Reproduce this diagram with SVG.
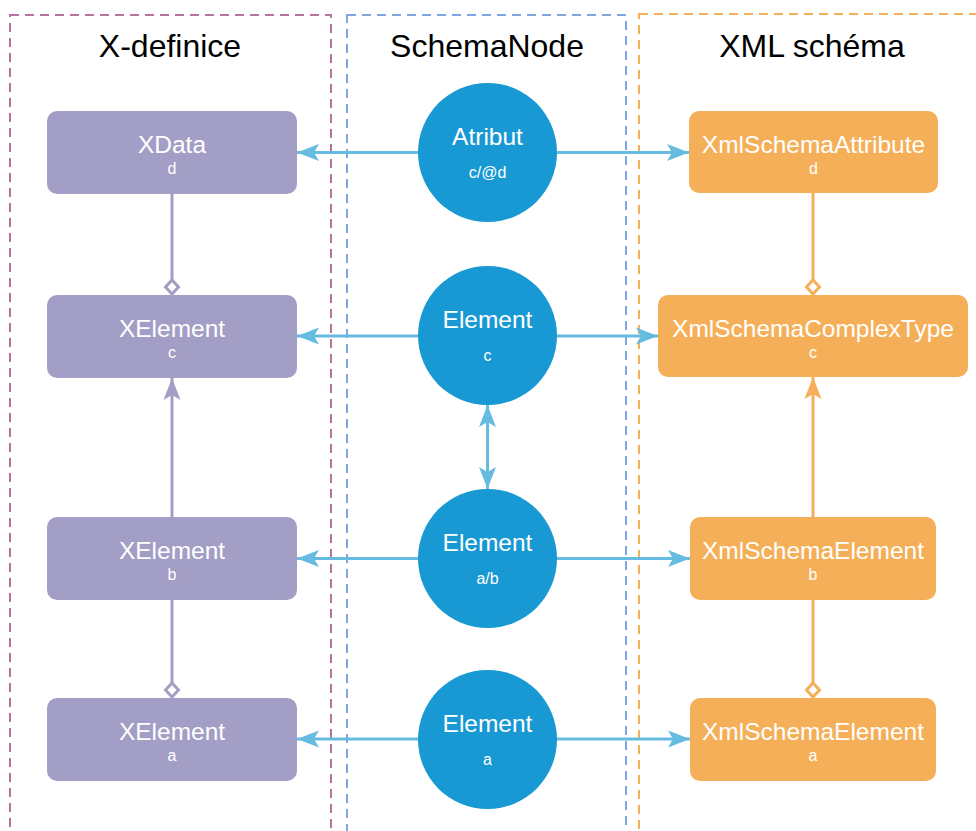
<svg xmlns="http://www.w3.org/2000/svg" width="976" height="831" viewBox="0 0 976 831">
  <style>
    .lane { fill: none; stroke-width: 2; stroke-dasharray: 9 6; }
    .title { font-family: "Liberation Sans", Arial, sans-serif; font-size: 32px; fill: #000; text-anchor: middle; }
    .xdef rect { fill: #A39EC5; }
    .xsd rect { fill: #F5AF58; }
    .sn circle { fill: #1899D3; }
    .name { font-family: "Liberation Sans", Arial, sans-serif; font-size: 24.5px; fill: #fff; text-anchor: middle; }
    .sub { font-family: "Liberation Sans", Arial, sans-serif; font-size: 16px; fill: #fff; text-anchor: middle; }
    .map { stroke: #66BCE0; stroke-width: 3; fill: none; }
    .purple { stroke: #A39EC5; stroke-width: 3; fill: none; }
    .orange { stroke: #F5AF58; stroke-width: 3; fill: none; }
  </style>
  <defs>
    <marker id="arrBlue" viewBox="0 0 24 18" refX="23" refY="9" markerWidth="24" markerHeight="18" markerUnits="userSpaceOnUse" orient="auto-start-reverse">
      <path d="M23,9 L1,0.5 L6,9 L1,17.5 Z" fill="#66BCE0"/>
    </marker>
    <marker id="arrPurple" viewBox="0 0 24 18" refX="23" refY="9" markerWidth="24" markerHeight="18" markerUnits="userSpaceOnUse" orient="auto">
      <path d="M23,9 L1,0.5 L6,9 L1,17.5 Z" fill="#A39EC5"/>
    </marker>
    <marker id="arrOrange" viewBox="0 0 24 18" refX="23" refY="9" markerWidth="24" markerHeight="18" markerUnits="userSpaceOnUse" orient="auto">
      <path d="M23,9 L1,0.5 L6,9 L1,17.5 Z" fill="#F5AF58"/>
    </marker>
    <marker id="diaPurple" viewBox="0 0 20 20" refX="17" refY="10" markerWidth="20" markerHeight="20" markerUnits="userSpaceOnUse" orient="auto">
      <path d="M17,10 L10,3.5 L3,10 L10,16.5 Z" fill="#fff" stroke="#A39EC5" stroke-width="3"/>
    </marker>
    <marker id="diaOrange" viewBox="0 0 20 20" refX="17" refY="10" markerWidth="20" markerHeight="20" markerUnits="userSpaceOnUse" orient="auto">
      <path d="M17,10 L10,3.5 L3,10 L10,16.5 Z" fill="#fff" stroke="#F5AF58" stroke-width="3"/>
    </marker>
  </defs>

  <!-- swimlanes -->
  <g id="lanes">
    <rect class="lane" x="10" y="15" width="321" height="850" stroke="#B5739D"/>
    <rect class="lane" x="347" y="15" width="279" height="850" stroke="#7EA6E0"/>
    <rect class="lane" x="639" y="14" width="360" height="850" stroke="#F5B055"/>
    <text class="title" x="170" y="57">X-definice</text>
    <text class="title" x="487" y="57">SchemaNode</text>
    <text class="title" x="812" y="57">XML schéma</text>
  </g>

  <!-- connectors -->
  <g id="connectors">
    <!-- SchemaNode to X-definice / XML schema -->
    <line class="map" x1="418" y1="152.5" x2="297" y2="152.5" marker-end="url(#arrBlue)"/>
    <line class="map" x1="557" y1="152.5" x2="689" y2="152.5" marker-end="url(#arrBlue)"/>
    <line class="map" x1="418" y1="336" x2="297" y2="336" marker-end="url(#arrBlue)"/>
    <line class="map" x1="557" y1="336" x2="658" y2="336" marker-end="url(#arrBlue)"/>
    <line class="map" x1="418" y1="558.5" x2="297" y2="558.5" marker-end="url(#arrBlue)"/>
    <line class="map" x1="557" y1="558.5" x2="690" y2="558.5" marker-end="url(#arrBlue)"/>
    <line class="map" x1="418" y1="739" x2="297" y2="739" marker-end="url(#arrBlue)"/>
    <line class="map" x1="557" y1="739" x2="690" y2="739" marker-end="url(#arrBlue)"/>
    <line class="map" x1="487.5" y1="405" x2="487.5" y2="489" marker-start="url(#arrBlue)" marker-end="url(#arrBlue)"/>
    <!-- X-definice structure -->
    <line class="purple" x1="172" y1="194" x2="172" y2="294" marker-end="url(#diaPurple)"/>
    <line class="purple" x1="172" y1="517" x2="172" y2="378" marker-end="url(#arrPurple)"/>
    <line class="purple" x1="172" y1="600" x2="172" y2="697" marker-end="url(#diaPurple)"/>
    <!-- XML schema structure -->
    <line class="orange" x1="813" y1="193" x2="813" y2="294" marker-end="url(#diaOrange)"/>
    <line class="orange" x1="813" y1="517" x2="813" y2="377" marker-end="url(#arrOrange)"/>
    <line class="orange" x1="813" y1="600" x2="813" y2="697" marker-end="url(#diaOrange)"/>
  </g>

  <!-- X-definice nodes -->
  <g id="xdata" class="xdef">
    <rect x="47" y="111" width="250" height="83" rx="10"/>
    <text class="name" x="172" y="153">XData</text>
    <text class="sub" x="172" y="174">d</text>
  </g>
  <g id="xelement-c" class="xdef">
    <rect x="47" y="295" width="250" height="83" rx="10"/>
    <text class="name" x="172" y="337">XElement</text>
    <text class="sub" x="172" y="358">c</text>
  </g>
  <g id="xelement-b" class="xdef">
    <rect x="47" y="517" width="250" height="83" rx="10"/>
    <text class="name" x="172" y="559">XElement</text>
    <text class="sub" x="172" y="580">b</text>
  </g>
  <g id="xelement-a" class="xdef">
    <rect x="47" y="698" width="250" height="83" rx="10"/>
    <text class="name" x="172" y="740">XElement</text>
    <text class="sub" x="172" y="761">a</text>
  </g>

  <!-- SchemaNode nodes -->
  <g id="sn-atribut" class="sn">
    <circle cx="487.5" cy="152.5" r="69.5"/>
    <text class="name" x="487.5" y="145">Atribut</text>
    <text class="sub" x="487.5" y="178">c/@d</text>
  </g>
  <g id="sn-element-c" class="sn">
    <circle cx="487.5" cy="335.5" r="69.5"/>
    <text class="name" x="487.5" y="328">Element</text>
    <text class="sub" x="487.5" y="361">c</text>
  </g>
  <g id="sn-element-ab" class="sn">
    <circle cx="487.5" cy="558.5" r="69.5"/>
    <text class="name" x="487.5" y="551">Element</text>
    <text class="sub" x="487.5" y="584">a/b</text>
  </g>
  <g id="sn-element-a" class="sn">
    <circle cx="487.5" cy="739.5" r="69.5"/>
    <text class="name" x="487.5" y="732">Element</text>
    <text class="sub" x="487.5" y="765">a</text>
  </g>

  <!-- XML schema nodes -->
  <g id="xs-attribute" class="xsd">
    <rect x="689" y="111" width="249" height="82" rx="10"/>
    <text class="name" x="813.5" y="153">XmlSchemaAttribute</text>
    <text class="sub" x="813.5" y="174">d</text>
  </g>
  <g id="xs-complextype" class="xsd">
    <rect x="658" y="295" width="310" height="82" rx="10"/>
    <text class="name" x="813" y="337">XmlSchemaComplexType</text>
    <text class="sub" x="813" y="358">c</text>
  </g>
  <g id="xs-element-b" class="xsd">
    <rect x="690" y="517" width="246" height="83" rx="10"/>
    <text class="name" x="813" y="559">XmlSchemaElement</text>
    <text class="sub" x="813" y="580">b</text>
  </g>
  <g id="xs-element-a" class="xsd">
    <rect x="690" y="698" width="246" height="83" rx="10"/>
    <text class="name" x="813" y="740">XmlSchemaElement</text>
    <text class="sub" x="813" y="761">a</text>
  </g>
</svg>
